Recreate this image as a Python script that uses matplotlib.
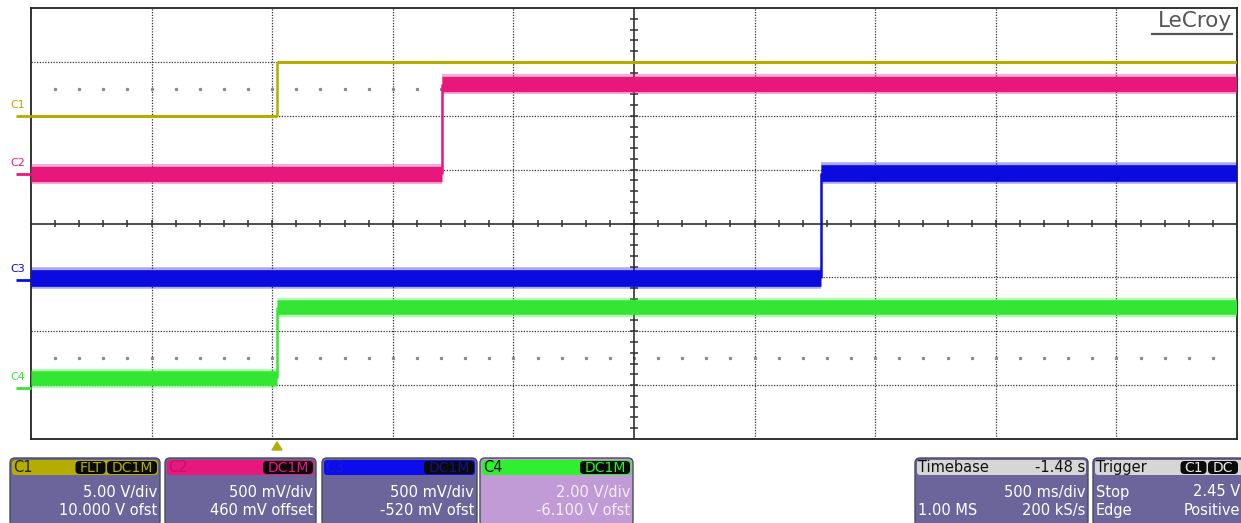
import numpy as np
import matplotlib.pyplot as plt
from matplotlib.patches import FancyBboxPatch, Polygon

# ---------- scope settings ----------
channels = ["C1", "C2", "C3", "C4"]
volts_per_div = [5.0, 0.5, 0.5, 2.0]
offsets = [10.0, 0.46, -0.52, -6.1]          # V, added before scaling
low_volts = [0.0, 0.0, 0.015, 0.36]
high_volts = [5.0, 0.835, 0.985, 3.0]
step_times = [0.0, 0.685, 2.255, 0.0]        # s after trigger
trace_colors = ["#b3ad00", "#e8177c", "#0b0be0", "#33e633"]
band_widths = [2.2, 11.0, 12.0, 10.5]        # noise band core thickness (pt)

time_per_div = 0.5
trigger_delay = -1.48                        # s, timebase delay
n_xdiv, n_ydiv = 10, 8

panel_titles = ["C1", "C2", "C3", "C4"]
panel_badges = [["FLT", "DC1M"], ["DC1M"], ["DC1M"], ["DC1M"]]
panel_lines = [["5.00 V/div", "10.000 V ofst"],
               ["500 mV/div", "460 mV offset"],
               ["500 mV/div", "-520 mV ofst"],
               ["2.00 V/div", "-6.100 V ofst"]]
timebase_rows = [("Timebase", "-1.48 s"), ("", "500 ms/div"), ("1.00 MS", "200 kS/s")]
trigger_rows = [("Trigger", ""), ("Stop", "2.45 V"), ("Edge", "Positive")]

W, H = 1241, 523
fig = plt.figure(figsize=(W / 100, H / 100), dpi=100)
fig.patch.set_facecolor("white")
plt.rcParams["font.family"] = "DejaVu Sans"

# ---------- graticule ----------
ax = fig.add_axes([31 / W, (H - 439) / H, 1206 / W, 431 / H])
t_center = -trigger_delay
t_left = t_center - n_xdiv / 2 * time_per_div
t_right = t_center + n_xdiv / 2 * time_per_div
ax.set_xlim(t_left, t_right)
ax.set_ylim(-n_ydiv / 2, n_ydiv / 2)
ax.set_xticks([])
ax.set_yticks([])
for s in ax.spines.values():
    s.set_linewidth(1.3)
    s.set_color("#222222")

for i in range(1, n_xdiv):
    if i == n_xdiv // 2:
        continue
    ax.axvline(t_left + i * time_per_div, color="#333333", lw=0.9, ls=(0, (1, 1.2)), zorder=1)
for j in range(-n_ydiv // 2 + 1, n_ydiv // 2):
    if j == 0:
        continue
    ax.axhline(j, color="#333333", lw=0.9, ls=(0, (1, 1.2)), zorder=1)

# faint dotted rows at +/-2.5 div
sub_t = t_left + np.arange(1, n_xdiv * 5) * time_per_div / 5
for yy in (2.5, -2.5):
    ax.plot(sub_t, np.full_like(sub_t, yy), ls="none", marker="s", ms=1.3,
            color="#8a8a8a", zorder=1)

# center crosshair with minor ticks
ax.axhline(0, color="#303030", lw=1.2, zorder=2)
ax.axvline(t_center, color="#303030", lw=1.2, zorder=2)
xt = t_left + np.arange(1, n_xdiv * 5) * time_per_div / 5
ax.vlines(xt, -0.07, 0.07, color="#303030", lw=1.1, zorder=2)
yt = np.arange(-n_ydiv * 5 // 2 + 1, n_ydiv * 5 // 2) / 5
dx = 4 / 120.6 * time_per_div
ax.hlines(yt, t_center - dx, t_center + dx, color="#303030", lw=1.1, zorder=2)

# ---------- traces ----------
for k, ch in enumerate(channels):
    lo = (low_volts[k] + offsets[k]) / volts_per_div[k]
    hi = (high_volts[k] + offsets[k]) / volts_per_div[k]
    ts = step_times[k]
    col = trace_colors[k]
    if band_widths[k] > 5:
        # spiky noise fringe around the solid core
        ax.hlines([lo, hi], [t_left, ts], [ts, t_right], color=col,
                  lw=band_widths[k] + 3.5, alpha=0.35, zorder=3 + k, capstyle="butt")
    ax.hlines([lo, hi], [t_left, ts], [ts, t_right], color=col,
              lw=band_widths[k], zorder=3 + k, capstyle="butt")
    ax.vlines(ts, lo, hi, color=col, lw=1.8, zorder=3 + k)

# ---------- overlay in pixel coordinates ----------
ov = fig.add_axes([0, 0, 1, 1], zorder=10)
ov.set_xlim(0, W)
ov.set_ylim(H, 0)
ov.axis("off")
ov.patch.set_alpha(0)


def y_px(div):
    return 223.5 - div * 431 / n_ydiv


# channel ground markers and labels on the left
for k, ch in enumerate(channels):
    gy = y_px(offsets[k] / volts_per_div[k])
    ov.plot([16, 31], [gy, gy], color=trace_colors[k], lw=2.0, solid_capstyle="butt")
    ov.text(10, gy - 11, ch, color=trace_colors[k], fontsize=8, ha="left", va="center")

# trigger position marker
trig_x = 31 + (0 - t_left) / (t_right - t_left) * 1206
ov.add_patch(Polygon([[trig_x - 5, 450], [trig_x + 5, 450], [trig_x, 442]],
                     closed=True, color="#b3ad00"))

# LeCroy logo
ov.text(1232, 21, "LeCroy", color="#555555", fontsize=15.5, ha="right", va="center")
ov.plot([1152, 1232], [33.5, 33.5], color="#555555", lw=1.6)

body_col = "#6c659b"
header_cols = ["#b4ad00", "#e8177c", "#0c0cee", "#30ee30"]
title_cols = ["#222222", "#c8106a", "#1a1ad0", "#111111"]
badge_text = ["#b4ad00", "#e8177c", "#101090", "#30ee30"]
body_cols = [body_col, body_col, body_col, "#c19bd5"]
text_cols = ["white", "white", "white", "#f4ecf8"]
box_x = [(10, 160), (165, 316), (322, 477), (480, 633)]
top, bot, head = 458, 526, 476


def box(x0, x1, body, header):
    ov.add_patch(FancyBboxPatch((x0, top), x1 - x0, bot - top,
                                boxstyle="round,pad=0,rounding_size=5",
                                fc=body, ec="#4a4a5a", lw=1.0))
    ov.add_patch(FancyBboxPatch((x0 + 2, top + 2), x1 - x0 - 4, head - top - 3,
                                boxstyle="round,pad=0,rounding_size=3",
                                fc=header, ec="none"))


def badges(labels, x1, fg):
    x = x1 - 3
    for lab in reversed(labels):
        w = sum(8 if c in "1FLTI" else 12 for c in lab) + 6
        ov.add_patch(FancyBboxPatch((x - w, top + 3), w, head - top - 5,
                                    boxstyle="round,pad=0,rounding_size=4",
                                    fc="#0a0a0a", ec="none"))
        ov.text(x - w / 2, (top + head) / 2 + 0.5, lab, color=fg, fontsize=10,
                ha="center", va="center")
        x -= w + 1.5


for k in range(4):
    x0, x1 = box_x[k]
    box(x0, x1, body_cols[k], header_cols[k])
    ov.text(x0 + 3, (top + head) / 2 + 0.5, panel_titles[k], color=title_cols[k],
            fontsize=10.5, ha="left", va="center")
    badges(panel_badges[k], x1, badge_text[k])
    for r, line in enumerate(panel_lines[k]):
        ov.text(x1 - 3, 492 + r * 18.5, line, color=text_cols[k], fontsize=10.5,
                ha="right", va="center")

# timebase and trigger panels
for (x0, x1), rows in [((915, 1088), timebase_rows), ((1093, 1245), trigger_rows)]:
    box(x0, x1, body_col, "#d6d6d6")
    for r, (left, right) in enumerate(rows):
        yy = (top + head) / 2 + 0.5 if r == 0 else 473.5 + r * 18.5
        col = "#111111" if r == 0 else "white"
        ov.text(x0 + 3, yy, left, color=col, fontsize=10.5, ha="left", va="center")
        ov.text(x1 - 5 if x1 > W else x1 - 3, yy, right, color=col, fontsize=10.5,
                ha="right", va="center")
badges(["C1", "DC"], 1241, "#e8e8e8")

fig.savefig("out.png", dpi=100, facecolor="white")
